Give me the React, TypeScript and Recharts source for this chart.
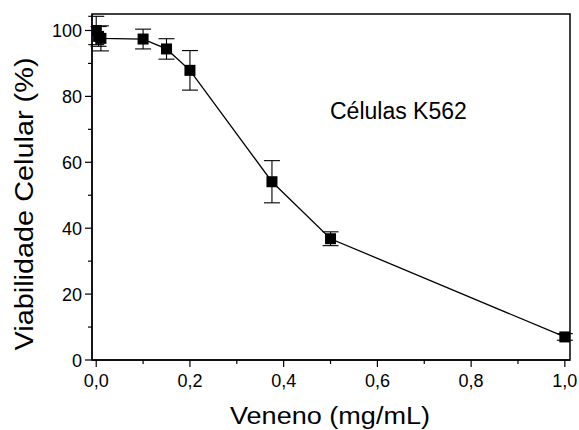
import React from "react";
import {
    ComposedChart,
    Line,
    XAxis,
    YAxis,
    ErrorBar,
    Customized,
} from "recharts";

// concentration of venom (mg/mL)
const dose = [0, 0.005, 0.01, 0.1, 0.15, 0.2, 0.375, 0.5, 1.0];
// cell viability (%) and its error
const viability = [100, 98.2, 97.6, 97.4, 94.4, 87.9, 54.1, 36.8, 7.0];
const viabilityErr = [4.3, 3.0, 3.8, 3.0, 3.1, 6.0, 6.4, 2.1, 1.0];

const xTicks = [0, 0.1, 0.2, 0.3, 0.4, 0.5, 0.6, 0.7, 0.8, 0.9, 1.0];
const xMajor = [0, 0.2, 0.4, 0.6, 0.8, 1.0];
const yTicks = [0, 10, 20, 30, 40, 50, 60, 70, 80, 90, 100];
const yMajor = [0, 20, 40, 60, 80, 100];

const xDomain = [-0.009, 1.011];
const yDomain = [0, 105];

const data = dose.map((d, i) => ({
    dose: d,
    viability: viability[i],
    err: viabilityErr[i],
}));

const W = 579;
const H = 430;
const MARGIN = { top: 14, right: 9, bottom: 0, left: 0 };
const Y_AXIS_W = 92;
const X_AXIS_H = 70;

const FONT = "'Liberation Sans', Arial, sans-serif";

const isMajor = (list: number[], v: number) => list.some((m) => Math.abs(m - v) < 1e-9);

const XTick = (props: any) => {
    const { x, y, payload } = props;
    const major = isMajor(xMajor, payload.value);
    return (
        <g>
            <line x1={x} y1={y} x2={x} y2={y + (major ? 7 : 4)} stroke="#000" strokeWidth={1.2} />
            {major && (
                <text x={x} y={y + 27} textAnchor="middle" fontSize={18} fontFamily={FONT} fill="#000">
                    {payload.value.toFixed(1).replace(".", ",")}
                </text>
            )}
        </g>
    );
};

const YTick = (props: any) => {
    const { x, y, payload } = props;
    const major = isMajor(yMajor, payload.value);
    return (
        <g>
            <line x1={x} y1={y} x2={x - (major ? 7 : 4)} y2={y} stroke="#000" strokeWidth={1.2} />
            {major && (
                <text x={x - 10} y={y + 6.5} textAnchor="end" fontSize={18} fontFamily={FONT} fill="#000">
                    {payload.value}
                </text>
            )}
        </g>
    );
};

const SquareDot = (props: any) => {
    const { cx, cy } = props;
    if (cx == null || cy == null) return null;
    return <rect x={cx - 5.5} y={cy - 5.5} width={11} height={11} fill="#000" />;
};

// plot frame and the text
const Overlay = () => {
    const left = MARGIN.left + Y_AXIS_W;
    const top = MARGIN.top;
    const right = W - MARGIN.right;
    const bottom = H - MARGIN.bottom - X_AXIS_H;
    return (
        <g>
            <rect
                x={left}
                y={top}
                width={right - left}
                height={bottom - top}
                fill="none"
                stroke="#000"
                strokeWidth={1.5}
            />
            <g fontFamily={FONT} fill="#000">
                <text x={330} y={119} fontSize={23}>
                    Células K562
                </text>
                <text x={330} y={424} fontSize={23} textAnchor="middle" textLength={200} lengthAdjust="spacingAndGlyphs">
                    Veneno (mg/mL)
                </text>
                <text
                    x={0}
                    y={0}
                    fontSize={25}
                    textAnchor="middle"
                    textLength={293}
                    lengthAdjust="spacingAndGlyphs"
                    transform="translate(33,204) rotate(-90)"
                >
                    Viabilidade Celular (%)
                </text>
            </g>
        </g>
    );
};

export default function App() {
    return (
        <div style={{ position: "absolute", left: 0, top: 0, background: "#fff" }}>
            <ComposedChart width={W} height={H} data={data} margin={MARGIN}>
                <XAxis
                    xAxisId="x"
                    dataKey="dose"
                    type="number"
                    domain={xDomain}
                    ticks={xTicks}
                    allowDataOverflow
                    height={X_AXIS_H}
                    tickSize={0}
                    tickMargin={0}
                    tickLine={false}
                    tick={<XTick />}
                    axisLine={{ stroke: "#000", strokeWidth: 1.3 }}
                    interval={0}
                />
                <YAxis
                    yAxisId="y"
                    type="number"
                    domain={yDomain}
                    ticks={yTicks}
                    allowDataOverflow
                    width={Y_AXIS_W}
                    tickSize={0}
                    tickMargin={0}
                    tickLine={false}
                    tick={<YTick />}
                    axisLine={{ stroke: "#000", strokeWidth: 1.3 }}
                    interval={0}
                />
                <Line
                    xAxisId="x"
                    yAxisId="y"
                    type="linear"
                    dataKey="viability"
                    stroke="#000"
                    strokeWidth={1.3}
                    dot={<SquareDot />}
                    activeDot={false}
                    isAnimationActive={false}
                >
                    <ErrorBar dataKey="err" direction="y" width={8} stroke="#000" strokeWidth={1.1} />
                </Line>
                <Customized component={Overlay} />
            </ComposedChart>
        </div>
    );
}
